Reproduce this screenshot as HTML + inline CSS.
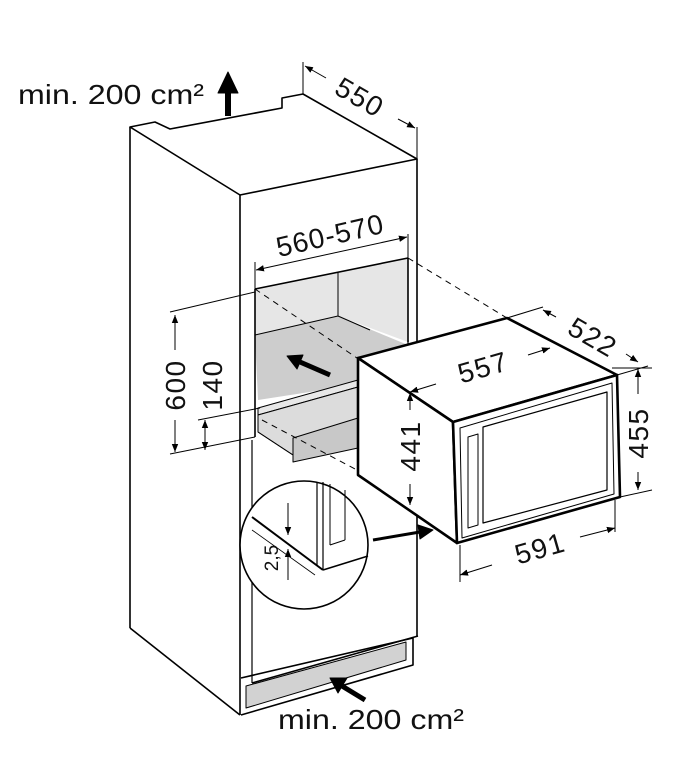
<!DOCTYPE html>
<html><head><meta charset="utf-8"><style>
html,body{margin:0;padding:0;background:#fff;}
svg{display:block;}
text{font-family:"Liberation Sans",Arial,sans-serif;fill:#111;}
</style></head><body>
<svg width="680" height="784" viewBox="0 0 680 784" xmlns="http://www.w3.org/2000/svg">
<defs>
<marker id="a" viewBox="0 0 10 10" refX="10" refY="5" markerWidth="8" markerHeight="8" orient="auto-start-reverse" markerUnits="userSpaceOnUse"><path d="M0,1 L10,5 L0,9 z" fill="#000"/></marker>
</defs>
<g stroke="#000" fill="none" stroke-width="1.6" stroke-linejoin="round">
<path d="M130,127 L155,122 L170,129 L282,108 L282,98 L303,94 L417,159 L240,195 Z" fill="#fff"/>
<line x1="130" y1="127" x2="130" y2="628"/>
<line x1="130" y1="628" x2="240" y2="715"/>
<line x1="240" y1="195" x2="240" y2="715"/>
<line x1="417" y1="159" x2="417" y2="636"/>
<line x1="252" y1="440" x2="252" y2="683" stroke-width="1.2"/>
<line x1="408" y1="340" x2="408" y2="370" stroke-width="1.2"/>
<path d="M252,683 L418,636" stroke-width="1.6"/>
<path d="M241,678 L413,638 L413,665 L241,715"/>
<path d="M246,686 L406,642 L406,660 L246,708 Z" fill="#d2d2d2" stroke-width="1"/>
<path d="M255,289 L408,258 L408,342 L338,316 L255,335 Z" fill="#e6e6e6" stroke="none"/>
<path d="M255,335 L338,316 L408,345 L408,372 L355,385 L258,400 Z" fill="#cdcdcd" stroke="none"/>
<line x1="338" y1="273" x2="338" y2="316" stroke-width="1"/>
<line x1="255" y1="335" x2="338" y2="316" stroke-width="1"/>
<line x1="338" y1="316" x2="370" y2="330" stroke-width="1"/>
<line x1="255" y1="289" x2="408" y2="258"/>
<line x1="255" y1="289" x2="255" y2="437"/>
<line x1="408" y1="258" x2="408" y2="342"/>
<path d="M258,408 L358,380 L358,387 L258,415 Z" fill="#e8e8e8" stroke-width="1"/>
<path d="M258,415 L358,387 L358,430 L293,455 L258,432 Z" fill="#dcdcdc" stroke-width="1"/>
<path d="M293,438 L358,418 L358,448 L293,462 Z" fill="#c8c8c8" stroke-width="1"/>
<line x1="258" y1="432" x2="293" y2="455" stroke-width="1"/>
<g stroke-dasharray="6,5" stroke-width="1">
<line x1="255" y1="289" x2="360" y2="360"/>
<line x1="408" y1="258" x2="507" y2="318"/>
<line x1="262" y1="420" x2="357" y2="470"/>
</g>
<line x1="330" y1="375" x2="300" y2="362" stroke-width="5"/>
<polygon points="287,356 303,355 297,369" fill="#000" stroke-width="1"/>
<path d="M358,358 L507,318 L617,375 L453,422 Z" fill="#fff" stroke-width="2.6"/>
<path d="M358,358 L453,422 L457,543 L358,475 Z" fill="#fff" stroke-width="2.6"/>
<path d="M453,422 L617,375 L620,497 L457,543 Z" fill="#fff" stroke-width="2.6"/>
<path d="M460,428 L612,383 L614,494 L462,538 Z" stroke-width="1"/>
<path d="M483,427 L607,392 L607,490 L483,523 Z" stroke-width="1.2"/>
<path d="M468,437 L478,434 L478,525 L468,528 Z" stroke-width="1"/>
<g stroke-width="1">
<line x1="410" y1="392" x2="436" y2="384" marker-start="url(#a)"/>
<line x1="528" y1="355" x2="550" y2="348" marker-end="url(#a)"/>
<line x1="507" y1="318" x2="543" y2="307"/>
<line x1="617" y1="375" x2="648" y2="366"/>
<line x1="543" y1="310" x2="556" y2="317" marker-start="url(#a)"/>
<line x1="626" y1="354" x2="638" y2="362" marker-end="url(#a)"/>
<line x1="410" y1="393" x2="410" y2="410" marker-start="url(#a)"/>
<line x1="410" y1="484" x2="410" y2="505" marker-end="url(#a)"/>
<line x1="612" y1="368" x2="652" y2="368"/>
<line x1="620" y1="497" x2="652" y2="490"/>
<line x1="638" y1="369" x2="638" y2="394" marker-start="url(#a)"/>
<line x1="638" y1="472" x2="638" y2="490" marker-end="url(#a)"/>
<line x1="460" y1="545" x2="460" y2="582"/>
<line x1="615" y1="500" x2="615" y2="532"/>
<line x1="460" y1="575" x2="492" y2="565" marker-start="url(#a)"/>
<line x1="580" y1="537" x2="615" y2="528" marker-end="url(#a)"/>
<line x1="255" y1="262" x2="255" y2="289"/>
<line x1="408" y1="234" x2="408" y2="258"/>
<line x1="256" y1="270" x2="407" y2="237" marker-start="url(#a)" marker-end="url(#a)"/>
<line x1="303" y1="62" x2="303" y2="94"/>
<line x1="417" y1="127" x2="417" y2="159"/>
<line x1="305" y1="66" x2="326" y2="78" marker-start="url(#a)"/>
<line x1="398" y1="119" x2="415" y2="128" marker-end="url(#a)"/>
<line x1="170" y1="312" x2="255" y2="292"/>
<line x1="170" y1="454" x2="255" y2="437"/>
<line x1="175" y1="315" x2="175" y2="350" marker-start="url(#a)"/>
<line x1="175" y1="420" x2="175" y2="452" marker-end="url(#a)"/>
<line x1="198" y1="420" x2="260" y2="408"/>
<line x1="205" y1="420" x2="205" y2="450" marker-start="url(#a)" marker-end="url(#a)"/>
</g>
<circle cx="304" cy="545" r="64" fill="#fff" stroke-width="1.6"/>
<line x1="252" y1="517" x2="323" y2="570" stroke-width="2"/>
<line x1="252" y1="530" x2="315" y2="575" stroke-width="0.8"/>
<line x1="323" y1="570" x2="368" y2="556" stroke-width="1.6"/>
<line x1="317" y1="482" x2="317" y2="566" stroke-width="1.2"/>
<line x1="323" y1="482" x2="323" y2="570" stroke-width="1.2"/>
<line x1="330" y1="484" x2="330" y2="545" stroke-width="1"/>
<line x1="345" y1="490" x2="345" y2="540" stroke-width="1"/>
<path d="M330,545 L345,540" stroke-width="1"/>
<line x1="288" y1="503" x2="288" y2="535" stroke-width="1" marker-end="url(#a)"/>
<line x1="288" y1="580" x2="288" y2="549" stroke-width="1" marker-end="url(#a)"/>
<line x1="373" y1="540" x2="420" y2="532" stroke-width="3"/>
<polygon points="433,530 420,539 418,525" fill="#000" stroke-width="1"/>
<rect x="225" y="90" width="6" height="26" fill="#000" stroke="none"/>
<polygon points="218,93 238,93 228,72" fill="#000" stroke-width="1"/>
<line x1="365" y1="700" x2="342" y2="686" stroke-width="5"/>
<polygon points="330,678 347,678 338,693" fill="#000" stroke-width="1"/>
</g>
<g font-size="28" letter-spacing="1.5">
<text x="18" y="104" textLength="186" lengthAdjust="spacingAndGlyphs" letter-spacing="0">min. 200 cm²</text>
<text x="278" y="729" textLength="186" lengthAdjust="spacingAndGlyphs" letter-spacing="0">min. 200 cm²</text>
<text x="360" y="107" text-anchor="middle" transform="rotate(30 360 97)">550</text>
<text x="330" y="245" text-anchor="middle" transform="rotate(-13 330 235)" letter-spacing="1">560-570</text>
<text x="483" y="377" text-anchor="middle" transform="rotate(-16 483 367)">557</text>
<text x="593" y="347" text-anchor="middle" transform="rotate(30 593 337)">522</text>
<text x="638" y="443" text-anchor="middle" transform="rotate(-90 638 433)">455</text>
<text x="410" y="456" text-anchor="middle" transform="rotate(-90 410 446)">441</text>
<text x="540" y="558" text-anchor="middle" transform="rotate(-16 540 548)">591</text>
<text x="175" y="395" text-anchor="middle" transform="rotate(-90 175 385)">600</text>
<text x="212" y="395" text-anchor="middle" transform="rotate(-90 212 385)">140</text>
</g>
<text x="271" y="565" font-size="19" text-anchor="middle" transform="rotate(-90 271 558)">2,5</text>
</svg>
</body></html>
